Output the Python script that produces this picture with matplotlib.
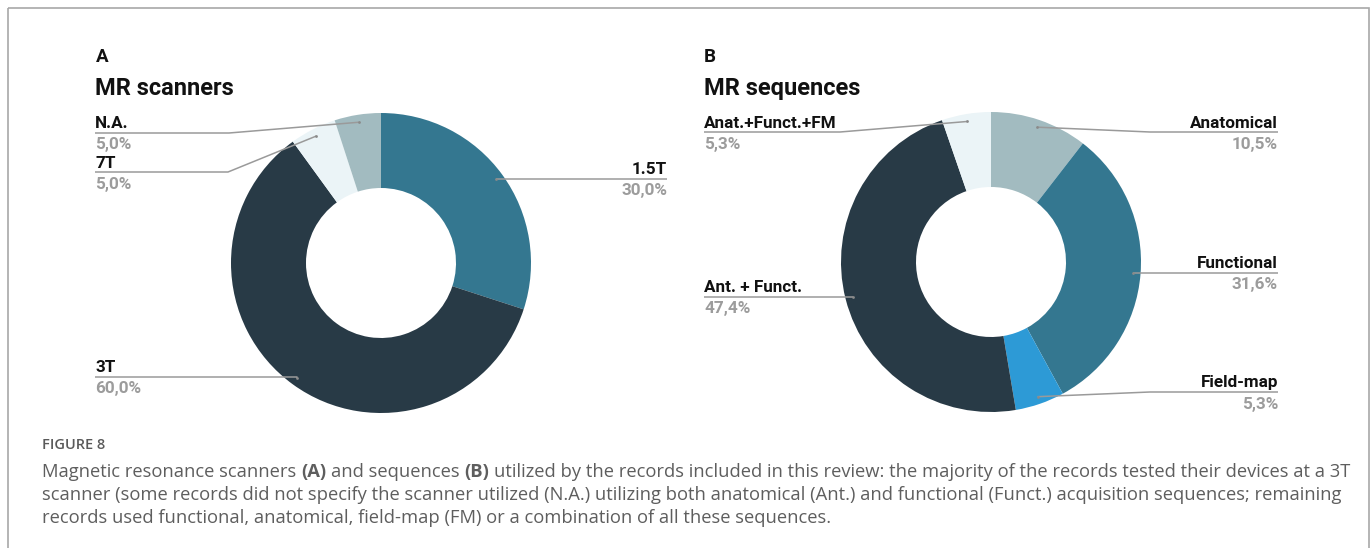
import numpy as np
import matplotlib
matplotlib.use("Agg")
import matplotlib.pyplot as plt
from matplotlib.patches import Rectangle

W, H = 1372, 548

# --- data ---------------------------------------------------------------
scanner_labels = ["1.5T", "3T", "7T", "N.A."]
scanner_values = [30.0, 60.0, 5.0, 5.0]
scanner_colors = ["#347790", "#283a46", "#ebf4f7", "#a2bbc0"]

sequence_labels = ["Anatomical", "Functional", "Field-map", "Ant. + Funct.", "Anat.+Funct.+FM"]
sequence_values = [10.5, 31.6, 5.3, 47.4, 5.3]
sequence_colors = ["#a2bbc0", "#347790", "#2d9ad6", "#283a46", "#ebf4f7"]

caption_title = "FIGURE 8"
caption_lines = [
    [("Magnetic resonance scanners ", "normal"), ("(A)", "bold"), (" and sequences ", "normal"),
     ("(B)", "bold"),
     (" utilized by the records included in this review: the majority of the records tested their devices at a 3T", "normal")],
    [("scanner (some records did not specify the scanner utilized (N.A.) utilizing both anatomical (Ant.) "
      "and functional (Funct.) acquisition sequences; remaining", "normal")],
    [("records used functional, anatomical, field-map (FM) or a combination of all these sequences.", "normal")],
]

# label layout: side, underline y, elbow x (None -> straight line)
scanner_layout = [("R", 179, None), ("L", 377, None), ("L", 172, 228), ("L", 133, 229)]
sequence_layout = [("R", 132, 1150), ("R", 273, None), ("R", 392, 1150),
                   ("L", 297, None), ("L", 132, 840)]

FONT = "Roboto"
LINE_C = "#9a9a9a"
LBL_FS = 12.3


def pct(v):
    return f"{v:.1f}%".replace(".", ",")


fig = plt.figure(figsize=(W / 100, H / 100), dpi=100)
fig.patch.set_facecolor("white")


def donut(cx, cy, R, values, colors):
    ax = fig.add_axes([(cx - R) / W, 1 - (cy + R) / H, 2 * R / W, 2 * R / H])
    wedges, _ = ax.pie(values, colors=colors, startangle=90, counterclock=False,
                       radius=1, wedgeprops=dict(width=0.5, linewidth=0))
    ax.set_xlim(-1, 1); ax.set_ylim(-1, 1)
    ax.set_axis_off()
    dots = []
    for w in wedges:
        a = np.deg2rad((w.theta1 + w.theta2) / 2)
        dots.append((cx + 0.95 * R * np.cos(a), cy - 0.95 * R * np.sin(a)))
    return dots


dotsA = donut(381, 263, 150, scanner_values, scanner_colors)
dotsB = donut(991, 262, 150, sequence_values, sequence_colors)

lay = fig.add_axes([0, 0, 1, 1], zorder=5)
lay.set_xlim(0, W); lay.set_ylim(H, 0)
lay.patch.set_visible(False)
lay.set_axis_off()

fig.canvas.draw()
rend = fig.canvas.get_renderer()


def text_w(t):
    return t.get_window_extent(rend).width


def labels(names, values, layout, dots, left_x, right_x):
    for name, v, (side, ly, elbow), (dx, dy) in zip(names, values, layout, dots):
        x0 = left_x if side == "L" else right_x
        ha = "left" if side == "L" else "right"
        lay.text(x0, ly - 4.5, name, ha=ha, va="baseline", fontsize=LBL_FS,
                 fontweight="bold", family=FONT, color="#111111")
        lay.text(x0, ly + 16.5, pct(v), ha=ha, va="baseline", fontsize=LBL_FS,
                 fontweight="bold", family=FONT, color="#9c9c9c")
        ex = dx if elbow is None else elbow
        lay.plot([x0, ex, dx], [ly, ly, dy], color=LINE_C, lw=1.1, solid_capstyle="butt")
        lay.plot([dx], [dy], "o", ms=2, color="#8a8a8a", mew=0)


labels(scanner_labels, scanner_values, scanner_layout, dotsA, 95, 667)
labels(sequence_labels, sequence_values, sequence_layout, dotsB, 704, 1278)

# panel letters and titles
lay.text(96, 62, "A", fontsize=13.5, fontweight="bold", family=FONT, color="#111111", va="baseline")
lay.text(95, 95, "MR scanners", fontsize=17, fontweight="bold", family=FONT, color="#111111", va="baseline")
lay.text(704, 62, "B", fontsize=13.5, fontweight="bold", family=FONT, color="#111111", va="baseline")
lay.text(704, 95, "MR sequences", fontsize=17, fontweight="bold", family=FONT, color="#111111", va="baseline")

# frame
lay.add_patch(Rectangle((8, 8), 1361, 700, fill=False, edgecolor="#a8a8a8", lw=1.2))

# caption
lay.text(42, 449, caption_title, fontsize=10.5, fontweight="semibold", family="Open Sans",
         color="#5a5a5a", va="baseline")

cap_fs = 13.2
probe1 = lay.text(0, 0, "x x", fontsize=cap_fs, family="Open Sans")
probe2 = lay.text(0, 0, "xx", fontsize=cap_fs, family="Open Sans")
space_w = text_w(probe1) - text_w(probe2)
probe1.remove(); probe2.remove()

for i, runs in enumerate(caption_lines):
    x = 42
    y = 477 + 23 * i
    for s, wt in runs:
        lead = len(s) - len(s.lstrip(" "))
        trail = len(s) - len(s.rstrip(" "))
        x += lead * space_w
        t = lay.text(x, y, s.strip(" "), fontsize=cap_fs, fontweight=wt, family="Open Sans",
                     color="#5e5e5e", va="baseline")
        x += text_w(t) + trail * space_w

fig.savefig("out.png", dpi=100, facecolor="white")
